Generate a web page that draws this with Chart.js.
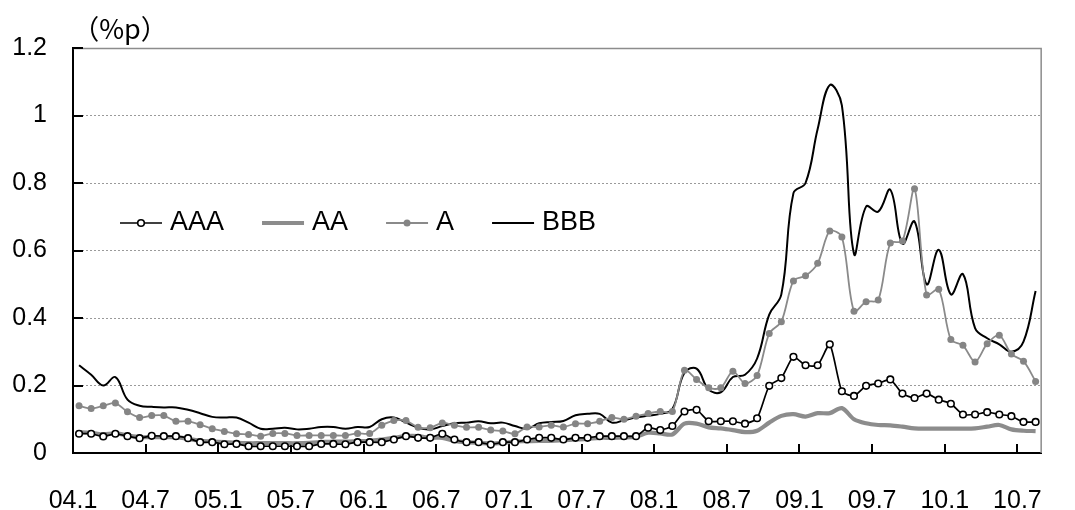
<!DOCTYPE html>
<html>
<head>
<meta charset="utf-8">
<script src="https://cdn.jsdelivr.net/npm/chart.js@4"></script>
<style>
  html, body { margin: 0; padding: 0; background: #fff; }
  #wrap { width: 1075px; height: 510px; }
</style>
</head>
<body>
<div id="wrap"><canvas id="c" width="1075" height="510"></canvas></div>
<script>
// Monthly categories, 2004.1 - 2010.8
const months = [
  '04.1','04.2','04.3','04.4','04.5','04.6','04.7','04.8','04.9','04.10','04.11','04.12',
  '05.1','05.2','05.3','05.4','05.5','05.6','05.7','05.8','05.9','05.10','05.11','05.12',
  '06.1','06.2','06.3','06.4','06.5','06.6','06.7','06.8','06.9','06.10','06.11','06.12',
  '07.1','07.2','07.3','07.4','07.5','07.6','07.7','07.8','07.9','07.10','07.11','07.12',
  '08.1','08.2','08.3','08.4','08.5','08.6','08.7','08.8','08.9','08.10','08.11','08.12',
  '09.1','09.2','09.3','09.4','09.5','09.6','09.7','09.8','09.9','09.10','09.11','09.12',
  '10.1','10.2','10.3','10.4','10.5','10.6','10.7','10.8'
];

// Axis labels on the x axis (every six months)
const tickLabels = ['04.1','04.7','05.1','05.7','06.1','06.7','07.1','07.7','08.1','08.7','09.1','09.7','10.1','10.7'];

// Spreads by rating (%p)
const aaa = [
  0.057,0.057,0.049,0.057,0.050,0.044,0.051,0.050,0.050,0.044,0.032,0.032,
  0.026,0.027,0.020,0.020,0.020,0.020,0.020,0.020,0.027,0.027,0.026,0.032,
  0.032,0.032,0.040,0.050,0.045,0.045,0.057,0.040,0.032,0.032,0.025,0.032,
  0.032,0.040,0.045,0.045,0.040,0.045,0.045,0.050,0.050,0.050,0.050,0.075,
  0.068,0.080,0.123,0.128,0.094,0.094,0.094,0.087,0.103,0.199,0.222,0.285,
  0.260,0.260,0.322,0.183,0.169,0.199,0.206,0.218,0.176,0.163,0.176,0.158,
  0.146,0.114,0.114,0.121,0.114,0.109,0.092,0.092
];
const aa = [
  0.062,0.060,0.055,0.058,0.052,0.047,0.047,0.047,0.047,0.042,0.036,0.034,
  0.032,0.030,0.029,0.029,0.029,0.029,0.029,0.030,0.032,0.034,0.034,0.035,
  0.036,0.040,0.045,0.050,0.050,0.045,0.045,0.036,0.032,0.030,0.028,0.030,
  0.034,0.035,0.036,0.036,0.038,0.040,0.042,0.045,0.045,0.046,0.048,0.060,
  0.058,0.055,0.087,0.087,0.076,0.073,0.068,0.062,0.066,0.090,0.110,0.115,
  0.108,0.118,0.118,0.133,0.100,0.088,0.083,0.082,0.078,0.073,0.072,0.072,
  0.072,0.072,0.073,0.078,0.083,0.070,0.066,0.065
];
const a = [
  0.140,0.132,0.140,0.148,0.122,0.105,0.111,0.111,0.094,0.094,0.084,0.072,
  0.064,0.057,0.055,0.050,0.058,0.058,0.052,0.052,0.052,0.052,0.052,0.058,
  0.058,0.082,0.096,0.096,0.076,0.075,0.089,0.082,0.076,0.076,0.068,0.065,
  0.057,0.077,0.077,0.082,0.077,0.087,0.087,0.094,0.105,0.100,0.109,0.117,
  0.123,0.123,0.245,0.218,0.193,0.193,0.242,0.206,0.230,0.354,0.389,0.510,
  0.525,0.562,0.658,0.640,0.420,0.448,0.453,0.622,0.628,0.783,0.468,0.485,
  0.336,0.319,0.270,0.324,0.349,0.293,0.272,0.212
];
const bbb = [
  0.260,0.232,0.200,0.225,0.158,0.140,0.137,0.135,0.135,0.128,0.118,0.107,
  0.105,0.105,0.090,0.072,0.072,0.075,0.070,0.072,0.077,0.077,0.072,0.077,
  0.077,0.100,0.105,0.090,0.075,0.070,0.080,0.088,0.090,0.094,0.088,0.090,
  0.080,0.072,0.088,0.092,0.095,0.112,0.116,0.116,0.090,0.097,0.105,0.110,
  0.116,0.130,0.238,0.250,0.188,0.180,0.225,0.232,0.280,0.410,0.470,0.770,
  0.800,0.960,1.090,1.030,0.590,0.730,0.715,0.780,0.620,0.686,0.500,0.602,
  0.470,0.530,0.370,0.340,0.322,0.300,0.330,0.480
];

const FONT = "'Liberation Sans', Arial, sans-serif";
const toPoints = arr => arr.map((v, i) => ({ x: i, y: v }));

// Frame, inside tick marks, legend and unit label
const decor = {
  id: 'decor',
  beforeDatasetsDraw(chart) {
    const { ctx, chartArea: { left, right, top, bottom }, scales: { x, y } } = chart;
    ctx.save();
    ctx.strokeStyle = '#8c8c8c';
    ctx.lineWidth = 1.5;
    ctx.beginPath();
    ctx.moveTo(left, top + 0.5);
    ctx.lineTo(right - 0.5, top + 0.5);
    ctx.lineTo(right - 0.5, bottom);
    ctx.stroke();

    ctx.strokeStyle = '#000';
    ctx.lineWidth = 2;
    ctx.beginPath();
    x.ticks.forEach((t, i) => {
      if (i === 0) return;
      const px = Math.round(x.getPixelForValue(t.value));
      ctx.moveTo(px, bottom);
      ctx.lineTo(px, bottom - 9);
    });
    y.ticks.forEach(t => {
      const py = Math.round(y.getPixelForValue(t.value));
      ctx.moveTo(left, py);
      ctx.lineTo(left + 10, py);
    });
    ctx.stroke();
    ctx.restore();
  },
  afterDraw(chart, args, opts) {
    const { ctx, chartArea: { left } } = chart;
    ctx.save();
    // unit label
    ctx.fillStyle = '#000';
    ctx.font = "27px 'Noto Sans CJK JP', sans-serif";
    ctx.textAlign = 'center';
    ctx.textBaseline = 'middle';
    ctx.fillText('（%p）', left + 47, 29);

    // legend row
    ctx.font = '27px ' + FONT;
    ctx.textAlign = 'left';
    let cx = opts.x;
    const cy = opts.y;
    [0, 1, 2, 3].forEach(di => {
      const ds = chart.data.datasets[di];
      ctx.strokeStyle = ds.borderColor;
      ctx.lineWidth = ds.borderWidth;
      ctx.beginPath();
      ctx.moveTo(cx, cy);
      ctx.lineTo(cx + opts.sample, cy);
      ctx.stroke();
      if (ds.pointRadius > 0) {
        ctx.beginPath();
        ctx.arc(cx + opts.sample / 2, cy, ds.pointRadius, 0, Math.PI * 2);
        ctx.fillStyle = ds.pointBackgroundColor;
        ctx.fill();
        if (ds.pointBorderWidth > 0) {
          ctx.lineWidth = ds.pointBorderWidth;
          ctx.strokeStyle = ds.pointBorderColor;
          ctx.stroke();
        }
      }
      ctx.fillStyle = '#000';
      const tx = cx + opts.sample + 8;
      ctx.fillText(ds.label, tx, cy);
      cx = tx + ctx.measureText(ds.label).width + opts.gap;
    });
    ctx.restore();
  }
};

new Chart(document.getElementById('c'), {
  type: 'line',
  data: {
    datasets: [
      {
        label: 'AAA', data: toPoints(aaa), order: 0,
        borderColor: '#000', borderWidth: 1.7, tension: 0.2,
        pointRadius: 3.3, pointBorderWidth: 1.6,
        pointBackgroundColor: '#fff', pointBorderColor: '#000'
      },
      {
        label: 'AA', data: toPoints(aa), order: 3,
        borderColor: '#8c8c8c', borderWidth: 4.2, tension: 0.3,
        pointRadius: 0
      },
      {
        label: 'A', data: toPoints(a), order: 1,
        borderColor: '#8a8a8a', borderWidth: 1.8, tension: 0.3,
        pointRadius: 3.5, pointBorderWidth: 0,
        pointBackgroundColor: '#858585', pointBorderColor: '#858585'
      },
      {
        label: 'BBB', data: toPoints(bbb), order: 2,
        borderColor: '#000', borderWidth: 2, tension: 0.4,
        pointRadius: 0
      }
    ]
  },
  options: {
    responsive: false,
    animation: false,
    devicePixelRatio: 1,
    layout: { padding: { top: 48, right: 9, left: 0, bottom: 0 } },
    plugins: {
      legend: { display: false },
      tooltip: { enabled: false },
      decor: { x: 120, y: 223, sample: 42, gap: 38 }
    },
    scales: {
      x: {
        type: 'linear',
        bounds: 'data',
        min: -0.5,
        max: months.length - 0.5,
        afterBuildTicks: s => {
          s.ticks = tickLabels.map((t, k) => ({ value: k * 6 - 0.5 }));
        },
        afterFit: s => { s.height = 57; },
        ticks: {
          autoSkip: false, maxRotation: 0, minRotation: 0,
          padding: 33, color: '#000',
          font: { family: FONT, size: 25 },
          callback: (v, i) => tickLabels[i]
        },
        grid: { drawOnChartArea: false, drawTicks: false },
        border: { color: '#000', width: 2 }
      },
      y: {
        min: 0, max: 1.2,
        afterFit: s => { s.width = 73; },
        ticks: {
          stepSize: 0.2, padding: 26, color: '#000',
          font: { family: FONT, size: 25 },
          callback: v => String(Number(v.toFixed(1)))
        },
        grid: { color: '#9a9a9a', lineWidth: 1, drawTicks: false },
        border: { color: '#000', width: 2, dash: [2, 2] }
      }
    }
  },
  plugins: [decor]
});
</script>
</body>
</html>
